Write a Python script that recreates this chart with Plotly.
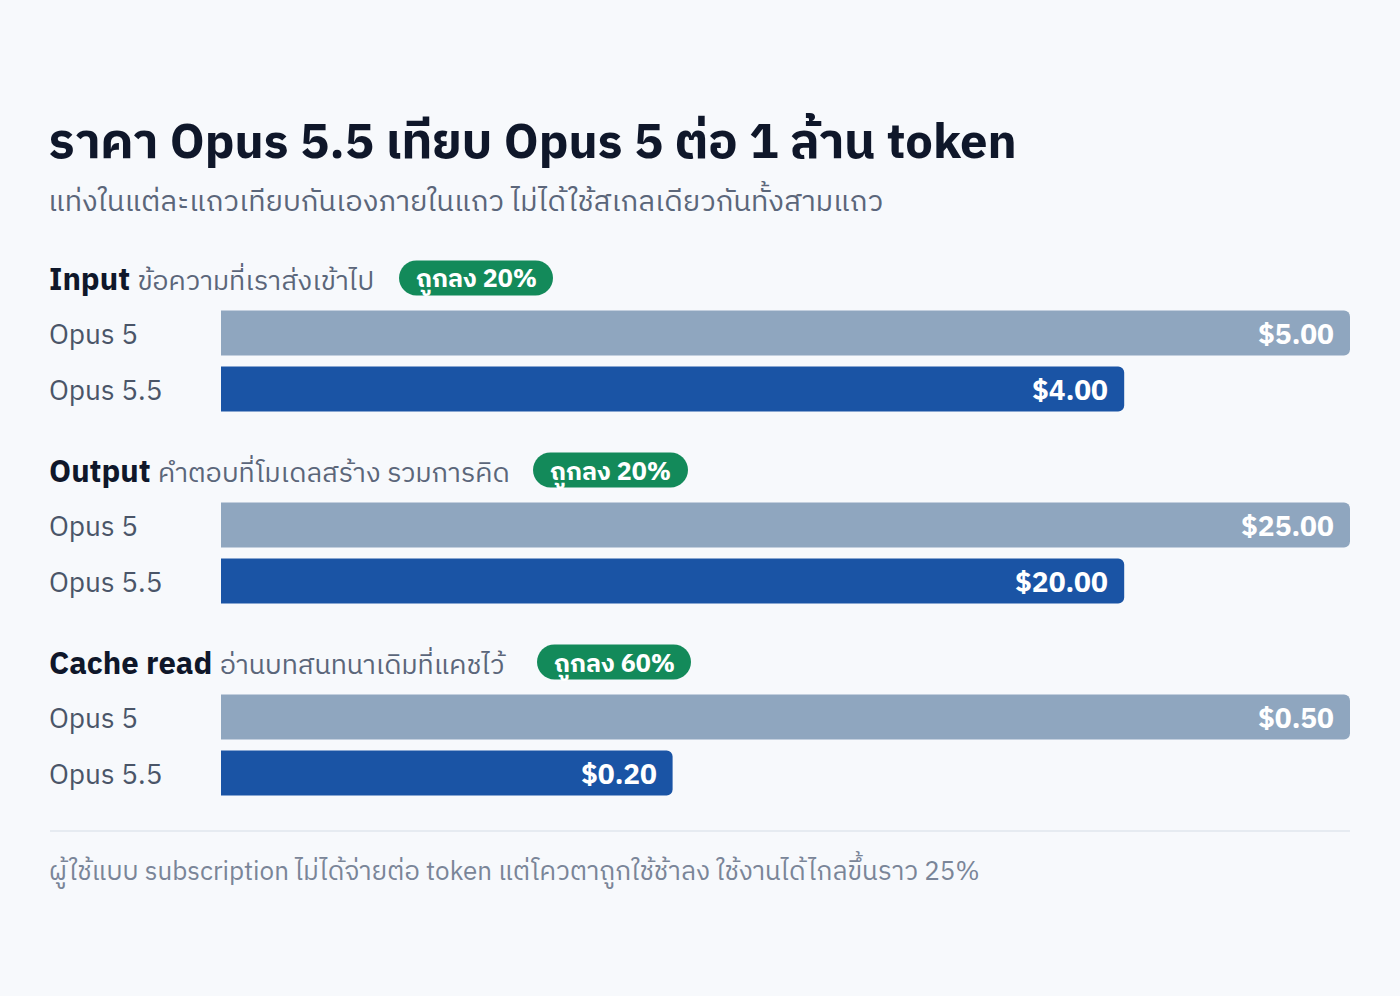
import plotly.graph_objects as go

# ---------------- data ----------------
groups = ["Input", "Output", "Cache read"]
descriptions = ["ข้อความที่เราส่งเข้าไป", "คำตอบที่โมเดลสร้าง รวมการคิด", "อ่านบทสนทนาเดิมที่แคชไว้"]
models = ["Opus 5", "Opus 5.5"]
opus5_prices = [5.00, 25.00, 0.50]
opus55_prices = [4.00, 20.00, 0.20]
badge_labels = ["ถูกลง 20%", "ถูกลง 20%", "ถูกลง 60%"]
title_text = "ราคา Opus 5.5 เทียบ Opus 5 ต่อ 1 ล้าน token"
subtitle_text = "แท่งในแต่ละแถวเทียบกันเองภายในแถว ไม่ได้ใช้สเกลเดียวกันทั้งสามแถว"
footer_text = "ผู้ใช้แบบ subscription ไม่ได้จ่ายต่อ token แต่โควตาถูกใช้ช้าลง ใช้งานได้ไกลขึ้นราว 25%"

# ---------------- style ----------------
W, H = 1400, 996
BG = "#f7f9fc"
C_OLD = "#8fa6bf"
C_NEW = "#1a54a5"
C_BADGE = "#138a5a"
C_TITLE = "#0f172a"
C_SUB = "#5b667a"
C_LABEL = "#4a5568"
C_FOOT = "#7a8598"
FONT = "'IBM Plex Sans Thai', 'Noto Sans Thai', 'Noto Sans', sans-serif"
YS = -3   # small vertical nudge for text baselines
XS = -3   # left-aligned text padding compensation

def px(x):
    return x / W

def py(y):
    return 1 - y / H

fig = go.Figure()

bar_x0, bar_x1 = 221, 1350
group_step = 192
annotations = []
shapes = []

# badge positions (pixel x of left/right edge) for each header
badge_x = [(399, 553), (533, 688), (537, 691)]

for i, g in enumerate(groups):
    k = i + 1
    xa = "x" if k == 1 else f"x{k}"
    ya = "y" if k == 1 else f"y{k}"
    vals = [opus5_prices[i], opus55_prices[i]]
    fig.add_trace(go.Bar(
        x=vals, y=models, orientation="h",
        marker=dict(color=[C_OLD, C_NEW], cornerradius=6, line=dict(width=0)),
        width=0.8, xaxis=xa, yaxis=ya, hoverinfo="skip", showlegend=False,
    ))
    top = 305 + group_step * i
    bot = 417 + group_step * i
    lay_x = "xaxis" if k == 1 else f"xaxis{k}"
    lay_y = "yaxis" if k == 1 else f"yaxis{k}"
    fig.update_layout(**{
        lay_x: dict(domain=[px(bar_x0), px(bar_x1)], range=[0, max(vals)], visible=False,
                    anchor=ya, fixedrange=True),
        lay_y: dict(domain=[py(bot), py(top)], range=[1.5, -0.5], visible=False,
                    anchor=xa, type="category", fixedrange=True),
    })
    # value labels and model labels
    for m, v in zip(models, vals):
        annotations.append(dict(
            x=v, y=m, xref=xa, yref=ya, xanchor="right", yanchor="middle",
            xshift=-14, yshift=YS, text=f"<b>${v:,.2f}</b>", showarrow=False,
            font=dict(family=FONT, size=28, color="white"),
        ))
        annotations.append(dict(
            x=px(50), y=m, xref="paper", yref=ya, xanchor="left", yanchor="middle",
            xshift=XS, yshift=YS,
            text=m, showarrow=False, font=dict(family=FONT, size=28, color=C_LABEL),
        ))
    # header
    hy = 278 + group_step * i
    annotations.append(dict(
        x=px(50), y=py(hy), xref="paper", yref="paper", xanchor="left", yanchor="middle",
        xshift=XS, yshift=YS,
        text=f"<b>{g}</b> <span style='font-size:27px;color:{C_SUB}'>{descriptions[i]}</span>",
        showarrow=False, font=dict(family=FONT, size=31, color=C_TITLE),
    ))
    # badge pill
    bx0, bx1 = badge_x[i]
    by0, by1 = hy - 17.5, hy + 17.5
    r = 17.5
    kk = 0.5523 * r
    path = (
        f"M {px(bx0 + r)},{py(by0)} L {px(bx1 - r)},{py(by0)} "
        f"C {px(bx1 - r + kk)},{py(by0)} {px(bx1)},{py(by0 + r - kk)} {px(bx1)},{py(by0 + r)} "
        f"C {px(bx1)},{py(by0 + r + kk)} {px(bx1 - r + kk)},{py(by1)} {px(bx1 - r)},{py(by1)} "
        f"L {px(bx0 + r)},{py(by1)} "
        f"C {px(bx0 + r - kk)},{py(by1)} {px(bx0)},{py(by1 - r + kk)} {px(bx0)},{py(by1 - r)} "
        f"C {px(bx0)},{py(by0 + r - kk)} {px(bx0 + r - kk)},{py(by0)} {px(bx0 + r)},{py(by0)} Z"
    )
    shapes.append(dict(type="path", path=path, xref="paper", yref="paper",
                       fillcolor=C_BADGE, line=dict(width=0), layer="above"))
    annotations.append(dict(
        x=px((bx0 + bx1) / 2), y=py(hy), xref="paper", yref="paper",
        xanchor="center", yanchor="middle", yshift=YS + 1, text=f"<b>{badge_labels[i]}</b>",
        showarrow=False, font=dict(family=FONT, size=25, color="white"),
    ))

# title / subtitle / footer
annotations.append(dict(x=px(50), y=py(142), xref="paper", yref="paper", xanchor="left",
                        yanchor="middle", xshift=XS, yshift=-1, borderpad=0,
                        text=f"<b>{title_text}</b>", showarrow=False,
                        font=dict(family=FONT, size=49, color=C_TITLE)))
annotations.append(dict(x=px(50), y=py(199), xref="paper", yref="paper", xanchor="left",
                        yanchor="middle", xshift=XS, yshift=YS, borderpad=0,
                        text=subtitle_text, showarrow=False,
                        font=dict(family=FONT, size=29, color=C_SUB)))
annotations.append(dict(x=px(50), y=py(869), xref="paper", yref="paper", xanchor="left",
                        yanchor="middle", xshift=XS, yshift=YS,
                        text=footer_text, showarrow=False,
                        font=dict(family=FONT, size=26, color=C_FOOT)))
shapes.append(dict(type="line", xref="paper", yref="paper", x0=px(50), x1=px(1350),
                   y0=py(831), y1=py(831), line=dict(color="#e1e6ee", width=1.5)))

fig.update_layout(
    width=W, height=H, margin=dict(l=0, r=0, t=0, b=0),
    paper_bgcolor=BG, plot_bgcolor=BG,
    annotations=annotations, shapes=shapes, showlegend=False,
    font=dict(family=FONT),
)

fig.write_html(
    "out.html",
    config={"displayModeBar": False},
    post_script="document.body.style.margin='0';document.body.style.background='" + BG + "';",
)
